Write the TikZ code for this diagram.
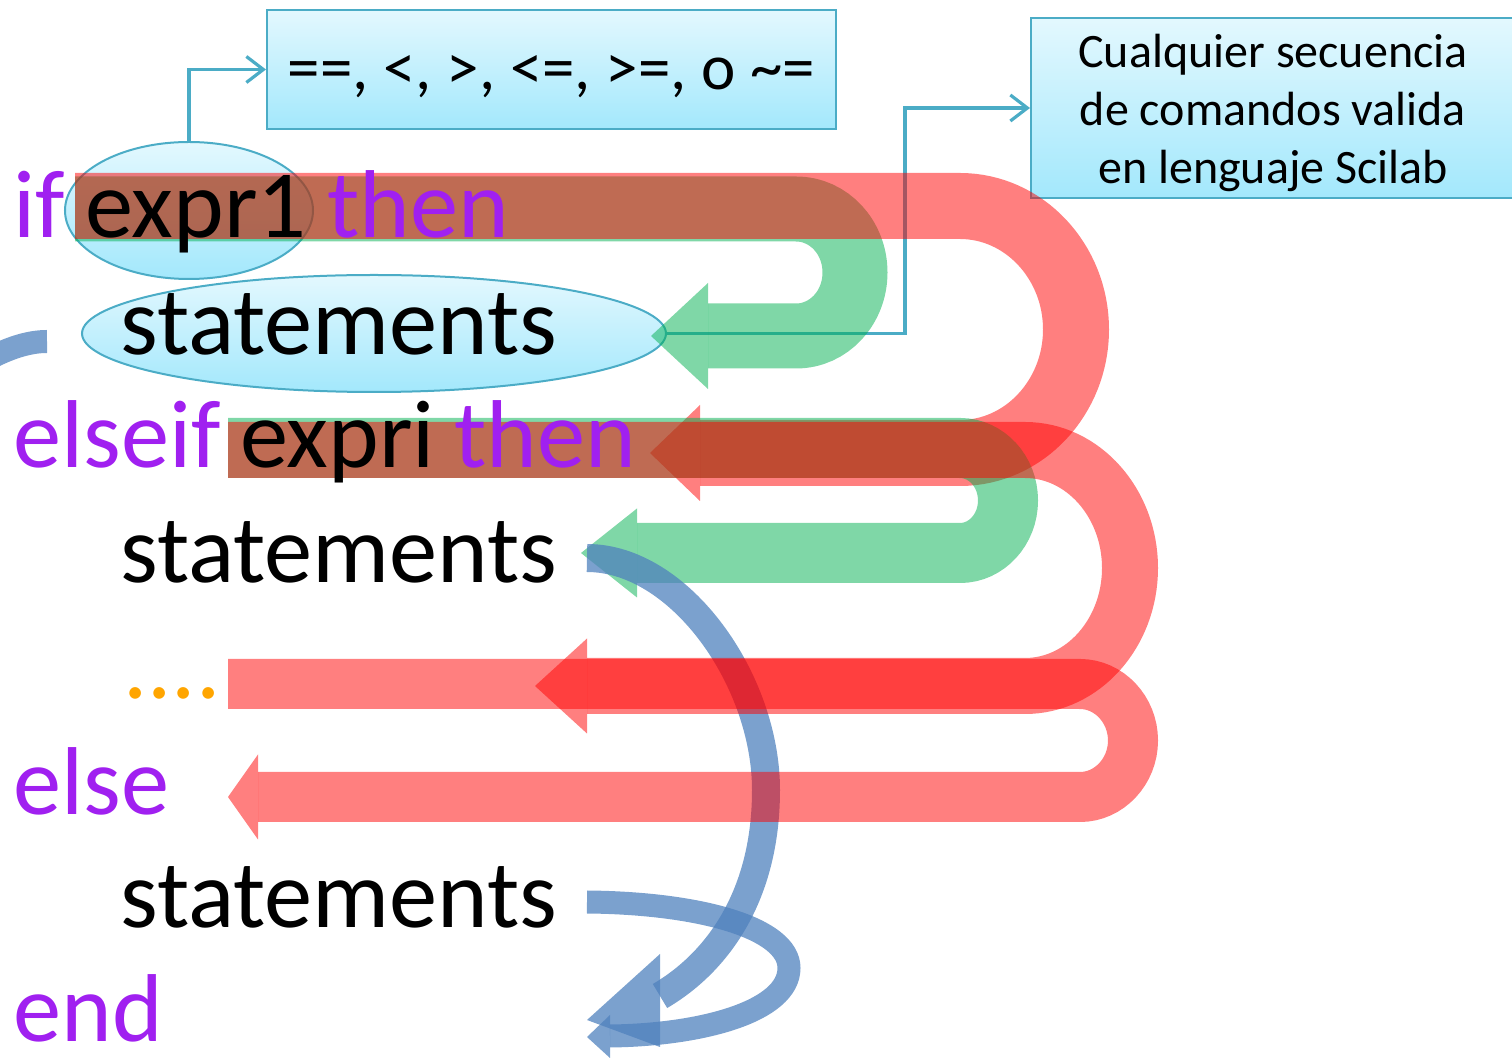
\documentclass[tikz,border=0pt]{standalone}
\usepackage{fontspec}
\setmainfont{Carlito}
\usetikzlibrary{arrows.meta,shapes.geometric}
\definecolor{kwc}{HTML}{A020F0}
\definecolor{dotc}{HTML}{FFA500}
\definecolor{rband}{HTML}{FF0000}
\definecolor{gband}{HTML}{00B050}
\definecolor{bband}{HTML}{4F81BD}
\definecolor{cyline}{HTML}{4BACC6}
\definecolor{cytop}{HTML}{E3F8FE}
\definecolor{cybot}{HTML}{A3E8FC}
\newcommand{\mainsz}{\fontsize{48.2pt}{57pt}\selectfont}
\begin{document}
\begin{tikzpicture}[x=0.5pt,y=-0.5pt,
  conn/.style={draw=cyline, line width=1.6pt, -{Straight Barb[length=8.5pt,width=13pt]}},
  callout/.style={draw=cyline, line width=1pt, top color=cytop, bottom color=cybot, inner sep=0pt},
  grn/.style={draw=gband, opacity=0.5},
  grnhead/.style={fill=gband, fill opacity=0.5},
  rd/.style={draw=rband, opacity=0.5},
  rdhead/.style={fill=rband, fill opacity=0.5},
  blu/.style={draw=bband, opacity=0.75},
  bluhead/.style={fill=bband, fill opacity=0.75},
  kw/.style={text=kwc, font=\mainsz, inner sep=0pt, anchor=base west},
  wd/.style={text=black, font=\mainsz, inner sep=0pt, anchor=base west},
]
\useasboundingbox (0,0) rectangle (1512,1058);
\clip (0,0) rectangle (1512,1058);

% callout boxes and ellipses
\node[callout, shape=rectangle, minimum width=284.5pt, minimum height=59.5pt] (b1) at (551.5,69.5) {};
\node[font=\fontsize{32.5pt}{38pt}\selectfont, inner sep=0pt] (b1t) at (551.5,77) {==, <, >, <=, >=, o \textasciitilde=};
\node[callout, shape=rectangle, minimum width=242pt, minimum height=90pt] (b2) at (1273,108) {};
\node[align=center, font=\fontsize{24pt}{29pt}\selectfont, inner sep=0pt] (b2t) at (1273,113) {Cualquier secuencia\\de comandos valida\\en lenguaje Scilab};
\node[callout, shape=ellipse, minimum width=124pt, minimum height=68.5pt] (e1) at (189,210.5) {};
\node[callout, shape=ellipse, minimum width=292pt, minimum height=58.5pt] (e2) at (374,333.5) {};

% connectors
\draw[conn] (e1.north) |- (b1.west);
\coordinate (k2) at (905,108);
\draw[conn] (e2.east) -| (k2) -- (b2.west);

% first green U-turn arrow
\draw[grn, line width=32.5pt]
  (75,209) -- (796,209) .. controls (829,209) and (855,237.5) .. (855,272.5)
  .. controls (855,307.5) and (829,336) .. (796,336) -- (708,336);
\fill[grnhead] (708,283) -- (651,336) -- (708,389) -- cycle;

% first red U-turn arrow
\draw[rd, line width=33pt]
  (75,206) -- (960,206) .. controls (1024,206) and (1076,261.5) .. (1076,329.5)
  .. controls (1076,397.5) and (1024,453) .. (960,453) -- (700,453);
\fill[rdhead] (700,405) -- (650,453) -- (700,501) -- cycle;

% second green U-turn arrow
\draw[grn, line width=30pt]
  (228,448) -- (960,448) .. controls (986.5,448) and (1008,471.5) .. (1008,500.5)
  .. controls (1008,529.5) and (986.5,553) .. (960,553) -- (637,553);
\fill[grnhead] (637,508.5) -- (581,553) -- (637,597.5) -- cycle;

% blue curved arrows
\draw[blu, line width=14pt]
  (587,558) .. controls (680,558) and (766,680) .. (766,790)
  .. controls (766,895) and (718,962) .. (660,996);
\fill[bluhead] (660,954) -- (587,1020) -- (660,1047) -- cycle;
\draw[blu, line width=11.5pt]
  (587,902) .. controls (700,903) and (789,928) .. (789,968)
  .. controls (789,1012) and (700,1035) .. (610,1036);
\fill[bluhead] (610,1015) -- (587,1037) -- (610,1058) -- cycle;
\draw[blu, line width=11.5pt] (47,341.5) .. controls (30,341.5) and (12,347) .. (-8,357);

% remaining red U-turn arrows
\draw[rd, line width=28pt]
  (228,450) -- (1025,450) .. controls (1083,450) and (1130,503) .. (1130,568)
  .. controls (1130,633) and (1083,686) .. (1025,686) -- (587,686);
\fill[rdhead] (587,638.5) -- (535,686) -- (587,733.5) -- cycle;
\draw[rd, line width=25pt]
  (228,684) -- (1080,684) .. controls (1109,684) and (1133,709.5) .. (1133,740.5)
  .. controls (1133,771.5) and (1109,797) .. (1080,797) -- (258,797);
\fill[rdhead] (258,754.5) -- (228,797) -- (258,839.5) -- cycle;

% code text
\node[kw] (tif) at (13,238) {if};
\node[wd] (tex1) at (85,238) {expr1};
\node[kw] (tthen1) at (327,238) {then};
\node[wd] (ts1) at (120,355) {statements};
\node[kw] (telseif) at (13,468) {elseif};
\node[wd] (texi) at (240,468) {expri};
\node[kw] (tthen2) at (454,468) {then};
\node[wd] (ts2) at (120,583) {statements};
\node[wd, text=dotc] (tdots) at (123,699) {....};
\node[kw] (telse) at (13,815) {else};
\node[wd] (ts3) at (120,928) {statements};
\node[kw] (tend) at (13,1042) {end};
\end{tikzpicture}
\end{document}
